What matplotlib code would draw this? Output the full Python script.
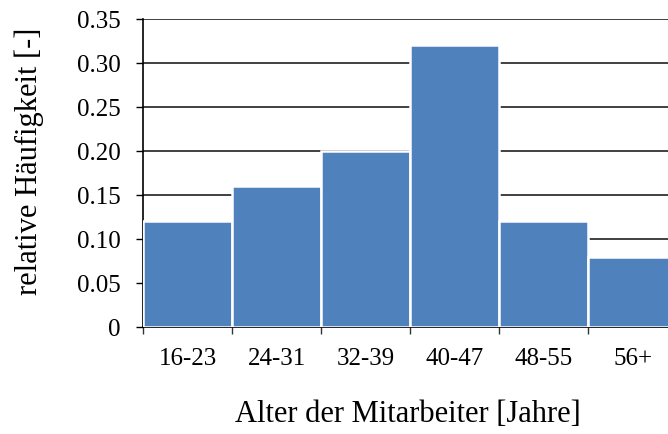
import matplotlib
matplotlib.use('Agg')
import matplotlib.pyplot as plt
import numpy as np

categories = ['16-23', '24-31', '32-39', '40-47', '48-55', '56+']
values = [0.12, 0.16, 0.20, 0.32, 0.12, 0.08]
yticks = [0, 0.05, 0.10, 0.15, 0.20, 0.25, 0.30, 0.35]
ytick_labels = ['0', '0.05', '0.10', '0.15', '0.20', '0.25', '0.30', '0.35']

plt.rcParams['font.family'] = ['Liberation Serif', 'DejaVu Serif']

fig = plt.figure(figsize=(6.68, 4.34), dpi=100)
# plot area runs past the right edge like in the original
ax = fig.add_axes([0.214, 0.2465, 0.8, 0.7095])

x = np.arange(len(categories))
ax.bar(x, values, width=1.0, color='#4F81BD', edgecolor='white', linewidth=1.8, zorder=3)

ax.set_xlim(-0.5, len(categories) - 0.5)
ax.set_ylim(0, 0.35)
ax.set_yticks(yticks)
ax.set_yticklabels(ytick_labels, fontsize=18)
ax.yaxis.grid(True, color='#404040', linewidth=1.4, zorder=0)
ax.set_axisbelow(True)

# boundary ticks unlabeled, labels at category centers
ax.set_xticks(np.arange(len(categories) + 1) - 0.5)
ax.set_xticklabels([])
ax.set_xticks(x, minor=True)
ax.set_xticklabels(categories, minor=True, fontsize=18)
ax.tick_params(axis='x', which='major', length=5, width=1, color='#333333')
ax.tick_params(axis='x', which='minor', length=0, pad=15)
ax.tick_params(axis='y', length=5, width=1, pad=11)

for s in ['top', 'right']:
    ax.spines[s].set_visible(False)
ax.spines['left'].set_linewidth(1.2)
ax.spines['bottom'].set_linewidth(1.2)

fig.text(408 / 668, 1 - 414 / 434, 'Alter der Mitarbeiter [Jahre]', fontsize=22,
         ha='center', va='center')
fig.text(29 / 668, 1 - 161 / 434, 'relative Häufigkeit [-]', fontsize=22,
         ha='center', va='center', rotation=90)

fig.savefig('out.png', dpi=100)
